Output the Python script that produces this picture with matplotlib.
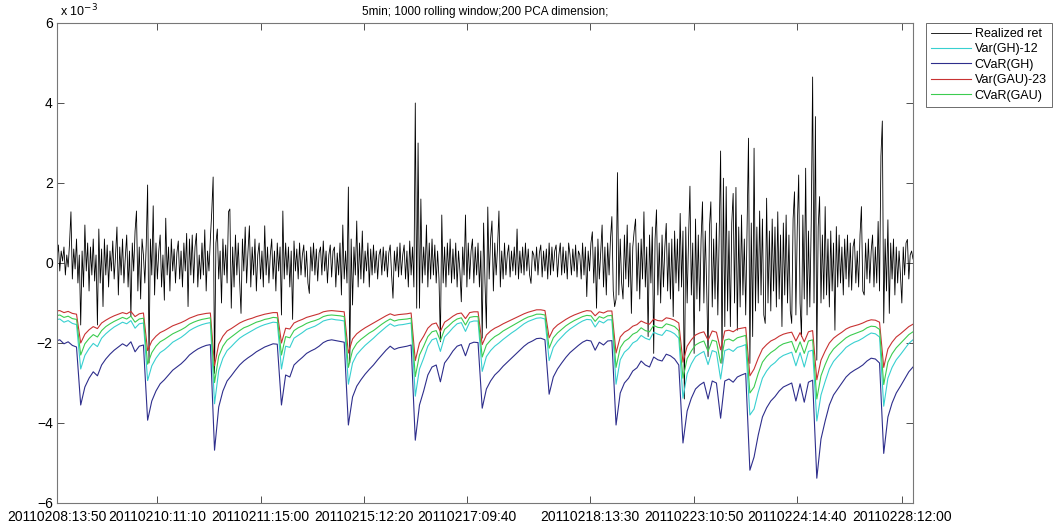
import numpy as np
import matplotlib
matplotlib.use('Agg')
import matplotlib.pyplot as plt

plt.rcParams['font.family'] = ['Liberation Sans', 'DejaVu Sans']

# realized 5min returns (x 1e-3), samples 1..615
ret_e3 = [
    0.1, 0.45, -0.2, 0.3, 0.05, 0.4, -0.3, 0.2, -0.1, 0.5, 1.28, -0.4, 0.35, -0.15, 0.6, -0.5, 0.2,
    -1.55, 0.3, -0.6, 0.95, -0.2, 0.5, -0.7, 0.4, -0.3, 0.6, -0.45, 0.2, -1.55, 0.85, -0.5, 0.35, -1.09, 0.6, -0.3, 0.45, -0.6, 0.3, -0.2, 0.55,
    -0.4, 0.2, 0.9, -0.8, 0.4, -0.3, 0.6, -0.5, 0.15, 0.7, -0.6, 0.3, -1.34, 0.5, -0.2, 0.8, 1.3, -0.7, 0.4, -0.9, 0.6, 0.2, -0.5, 0.45,
    1.95, -2.5, 0.6, -0.3, 1.43, -0.8, 0.5, -0.4, 0.3, 0.7, -0.6, 0.2, -0.93, 1.12, -0.3, 0.4, -0.7, 0.6, -0.2, 0.35, -0.5, 0.25, 0.55, -0.4,
    0.3, -0.6, 0.5, -0.2, 0.74, -1.09, 0.6, -0.3, 0.7, -0.5, 0.4, 0.74, -0.6, 0.2, -0.4, 0.5, -0.3, 0.83, -0.7, 0.3, -0.2, 0.6, 1.28, 2.15,
    -2.76, 0.5, 0.85, -0.4, 0.3, -1.0, 0.6, -0.3, 0.45, -0.5, 1.28, 1.35, -1.13, 0.4, -0.6, 0.7, -0.3, 0.5, -0.45, -1.26, 0.6, -0.2, 0.9, -0.5,
    0.3, 0.93, -0.6, 0.4, -0.3, 0.6, -0.7, 0.2, 0.5, -0.4, 0.3, -0.6, 0.93, -0.3, 0.4, -0.5, 0.2, 0.6, -0.4, 0.3, -0.7, 0.5, -0.2, 0.4,
    -1.3, 1.3, -0.4, 0.5, -0.3, 0.4, -0.6, 0.3, -1.41, 0.55, -0.2, 0.35, -0.4, 0.5, -0.3, 0.2, 0.45, -0.35, 0.3, -0.5, -0.76, 0.4, -0.2, 0.5,
    -0.3, 0.35, -0.45, 0.25, 0.4, -0.3, 0.55, -0.2, 0.3, -0.5, 0.2, 0.45, -0.35, 0.3, 0.4, -0.6, 0.25, -0.3, 0.5, -0.8, 0.95, -0.4, 0.3, -0.5,
    1.9, -2.5, 0.6, -1.05, 0.4, -0.3, 1.05, -0.6, 0.5, -0.4, 0.8, -0.5, 0.3, -0.2, 0.5, -0.6, 0.35, -0.3, 0.45, -0.25, 0.3, -0.4, 0.2, 0.35,
    -0.3, 0.4, -0.2, 0.3, -0.35, 0.25, 0.45, -0.3, -0.88, 0.3, -0.2, 0.4, -0.35, 0.5, -0.3, 0.2, 0.45, -0.4, 0.3, -0.6, 0.55, -0.3, 0.4, -0.6,
    4.0, -1.13, 3.0, -1.13, 1.6, -0.5, 0.4, -0.3, 0.95, -0.6, 0.5, -0.4, 0.6, -0.3, 0.45, -0.5, 0.3, -0.4, -1.97, 1.2, -0.5, 0.4, -0.6, 0.5,
    -0.3, 0.6, -0.5, 0.35, -0.4, 0.5, -0.6, 0.3, -0.2, -0.97, 0.4, -0.3, 1.2, -0.6, 0.5, -0.4, 0.3, 0.6, -0.5, 0.4, -0.3, 0.5, -0.6, 0.3,
    -1.88, 1.0, -0.5, -1.63, 1.4, -0.4, 0.6, 1.05, -0.7, 0.5, -0.3, 0.4, 1.3, -0.6, 0.3, -0.4, 0.5, -0.3, 0.2, 0.45, -0.35, 0.3, -0.2, 0.4,
    -0.3, 0.85, -0.4, 0.3, -0.25, 0.4, -0.3, 0.5, -0.2, 0.35, -0.3, -0.51, 0.3, 0.2, -0.2, 0.4, -0.3, 0.25, 0.45, -0.35, 0.3, -0.2, 0.35, -0.4,
    0.5, -0.3, 0.4, -0.2, 0.3, 0.45, -0.35, 0.2, 0.5, -0.3, 0.4, -0.25, 0.3, -0.4, 0.5, 0.2, -0.3, 0.35, -0.2, 0.45, -0.35, 0.3, 0.2, -0.4,
    0.5, -0.3, 0.4, -0.84, 0.3, -0.2, 0.5, 0.78, -0.5, 0.4, -1.13, 0.6, -0.4, 0.3, 0.95, -0.6, 0.4, -0.8, 0.5, -0.3, 0.6, 1.16, -0.7, -1.09,
    -0.9, 2.26, -0.8, 0.6, -0.5, -0.9, 0.7, -0.4, 0.95, -0.6, 0.5, -1.26, 0.4, 0.8, 1.1, -0.7, 0.5, -0.9, 0.6, -0.4, 1.28, -0.6, 0.4, -1.84,
    0.7, -0.5, 0.9, -2.26, 0.6, 1.33, -0.8, 0.5, -1.0, 0.7, -0.6, 0.4, 0.99, -0.7, 0.5, -0.9, 0.6, -1.34, 0.8, -0.5, 0.6, -0.7, 1.24, -0.6,
    0.8, -3.4, 0.9, -1.0, 0.6, 1.92, -0.8, 0.5, -2.26, 1.1, -0.9, 0.7, -1.2, 0.6, 1.53, -1.0, 0.8, -0.6, -2.34, 0.9, 1.53, -1.1, 0.6, -0.9,
    1.0, -1.3, 0.7, 2.8, -2.51, 2.12, -1.59, 1.91, -1.2, 0.8, -1.59, 1.0, 1.74, -1.0, 1.89, -1.68, 0.9, -1.1, 1.2, -0.8, 0.6, -1.3, 0.9, 3.12,
    -2.51, 1.0, -1.84, 2.87, -1.2, 0.9, -1.0, 1.3, -0.8, 1.1, -1.3, -1.51, 1.62, -1.0, 0.8, -1.2, 1.1, -0.7, 0.9, -1.1, 1.28, -0.9, 0.7, -1.59,
    1.0, -0.8, 1.2, -1.0, 0.7, -1.2, -1.51, 1.1, 1.78, -1.3, 0.9, 2.2, -1.0, -1.84, 1.2, -0.9, 2.37, -1.3, 0.8, -1.1, 1.0, 4.65, -1.0, 3.66,
    -2.43, 0.9, 1.66, -1.0, 0.7, -0.9, 1.41, -0.8, 0.6, -1.1, 0.8, -0.7, 0.5, -1.68, 0.91, -0.6, 0.7, -0.5, 0.4, -0.8, 0.6, -0.4, 0.7, -0.6,
    0.5, -0.68, 0.4, 0.6, -0.5, 0.3, -0.6, 0.7, 1.41, -0.7, -0.8, 0.5, -0.4, 0.6, -0.5, 0.3, 0.7, -0.6, 0.4, -0.5, 1.04, -0.7, 2.67, 3.55,
    -1.5, 0.6, -0.7, 1.08, -1.26, 0.5, -0.4, 0.6, -0.8, 0.4, -0.5, 0.3, -0.3, -1.0, 0.4, -0.3, 0.5, 0.59, -0.4, 0.2, 0.3, 0.1,
]

# risk estimates (x 1e-3), every 3rd sample 0..615
cvar_gh = [
    -1.95, -1.92, -2.02, -1.97, -2.06, -2.10,
    -3.55, -3.10, -2.88, -2.72, -2.82, -2.55, -2.40, -2.28, -2.18, -2.10, -2.02, -2.08, -1.97, -2.22, -2.08, -2.05,
    -3.93, -3.45, -3.20, -3.02, -2.92, -2.80, -2.68, -2.60, -2.52, -2.42, -2.30, -2.22, -2.15, -2.10, -2.06, -2.04,
    -4.68, -3.60, -3.20, -2.95, -2.82, -2.68, -2.55, -2.45, -2.37, -2.30, -2.22, -2.16, -2.10, -2.06, -2.02, -2.03,
    -3.55, -2.80, -2.85, -2.55, -2.45, -2.36, -2.26, -2.20, -2.15, -2.08, -1.99, -1.94, -1.92, -1.94, -1.96, -1.98,
    -4.05, -3.35, -3.08, -2.92, -2.78, -2.66, -2.55, -2.42, -2.30, -2.18, -2.08, -2.16, -2.12, -2.10, -2.08, -2.05,
    -4.43, -3.55, -3.20, -2.80, -2.60, -2.55, -2.97, -2.50, -2.36, -2.20, -2.08, -2.04, -2.32, -2.02, -1.98, -1.99,
    -3.63, -3.15, -2.95, -2.80, -2.70, -2.58, -2.48, -2.38, -2.28, -2.18, -2.08, -2.00, -1.95, -1.89, -1.88, -1.92,
    -3.28, -2.85, -2.65, -2.50, -2.36, -2.24, -2.15, -2.06, -1.98, -1.93, -1.95, -2.18, -1.98, -2.05, -1.95, -1.94,
    -4.05, -3.25, -3.00, -2.88, -2.70, -2.62, -2.45, -2.55, -2.60, -2.35, -2.42, -2.45, -2.28, -2.32, -2.40, -2.55,
    -4.50, -3.70, -3.38, -3.15, -3.05, -2.98, -3.40, -2.95, -3.00, -3.88, -2.95, -2.90, -2.98, -2.85, -2.80, -2.76,
    -5.18, -4.85, -4.30, -3.85, -3.62, -3.45, -3.34, -3.20, -3.10, -3.05, -3.00, -3.45, -3.02, -3.48, -2.98, -2.93,
    -5.38, -4.40, -3.95, -3.55, -3.30, -3.15, -3.00, -2.85, -2.75, -2.68, -2.62, -2.55, -2.45, -2.38, -2.40, -2.50,
    -4.76, -3.85, -3.50, -3.25, -3.08, -2.90, -2.72, -2.60,
]
var_gau = [
    -1.20, -1.19, -1.24, -1.21, -1.26, -1.28,
    -2.00, -1.78, -1.67, -1.59, -1.64, -1.50, -1.43, -1.37, -1.32, -1.28, -1.24, -1.27, -1.21, -1.34, -1.27, -1.25,
    -2.19, -1.95, -1.83, -1.74, -1.69, -1.63, -1.57, -1.53, -1.49, -1.44, -1.38, -1.34, -1.30, -1.28, -1.26, -1.25,
    -2.57, -2.03, -1.83, -1.70, -1.64, -1.57, -1.50, -1.45, -1.41, -1.38, -1.34, -1.31, -1.28, -1.26, -1.24, -1.24,
    -2.00, -1.63, -1.65, -1.50, -1.45, -1.41, -1.36, -1.33, -1.30, -1.27, -1.22, -1.20, -1.19, -1.20, -1.21, -1.22,
    -2.25, -1.90, -1.77, -1.69, -1.62, -1.56, -1.50, -1.44, -1.38, -1.32, -1.27, -1.31, -1.29, -1.28, -1.27, -1.25,
    -2.44, -2.00, -1.83, -1.63, -1.53, -1.50, -1.71, -1.48, -1.41, -1.33, -1.27, -1.25, -1.39, -1.24, -1.22, -1.22,
    -2.04, -1.80, -1.70, -1.63, -1.58, -1.52, -1.47, -1.42, -1.37, -1.32, -1.27, -1.23, -1.20, -1.17, -1.17, -1.19,
    -1.87, -1.65, -1.55, -1.48, -1.41, -1.35, -1.30, -1.26, -1.22, -1.19, -1.20, -1.32, -1.22, -1.25, -1.20, -1.20,
    -2.25, -1.85, -1.73, -1.67, -1.58, -1.54, -1.45, -1.50, -1.53, -1.40, -1.44, -1.45, -1.37, -1.39, -1.43, -1.50,
    -2.48, -2.08, -1.92, -1.80, -1.75, -1.72, -1.93, -1.70, -1.73, -2.17, -1.70, -1.68, -1.72, -1.65, -1.63, -1.61,
    -2.82, -2.65, -2.38, -2.15, -2.04, -1.95, -1.90, -1.83, -1.78, -1.75, -1.73, -1.95, -1.74, -1.97, -1.72, -1.69,
    -2.92, -2.43, -2.20, -2.00, -1.88, -1.80, -1.73, -1.65, -1.60, -1.57, -1.54, -1.50, -1.45, -1.42, -1.43, -1.48,
    -2.61, -2.15, -1.98, -1.85, -1.77, -1.68, -1.59, -1.53,
]
cvar_gau = [
    -1.32, -1.30, -1.36, -1.33, -1.39, -1.41,
    -2.30, -2.02, -1.89, -1.79, -1.85, -1.69, -1.59, -1.52, -1.46, -1.41, -1.36, -1.40, -1.33, -1.48, -1.40, -1.38,
    -2.53, -2.24, -2.08, -1.97, -1.91, -1.84, -1.77, -1.72, -1.67, -1.61, -1.53, -1.48, -1.44, -1.41, -1.39, -1.37,
    -2.99, -2.33, -2.08, -1.93, -1.85, -1.77, -1.69, -1.62, -1.58, -1.53, -1.48, -1.45, -1.41, -1.39, -1.36, -1.37,
    -2.30, -1.84, -1.87, -1.69, -1.62, -1.57, -1.51, -1.47, -1.44, -1.40, -1.34, -1.31, -1.30, -1.31, -1.32, -1.34,
    -2.61, -2.18, -2.01, -1.91, -1.83, -1.75, -1.69, -1.61, -1.53, -1.46, -1.40, -1.45, -1.42, -1.41, -1.40, -1.38,
    -2.84, -2.30, -2.08, -1.84, -1.72, -1.69, -1.94, -1.66, -1.57, -1.47, -1.40, -1.37, -1.55, -1.36, -1.34, -1.34,
    -2.35, -2.05, -1.93, -1.84, -1.78, -1.70, -1.64, -1.58, -1.52, -1.46, -1.40, -1.35, -1.32, -1.28, -1.28, -1.30,
    -2.13, -1.87, -1.75, -1.66, -1.57, -1.50, -1.44, -1.39, -1.34, -1.31, -1.32, -1.46, -1.34, -1.38, -1.32, -1.31,
    -2.61, -2.12, -1.96, -1.89, -1.78, -1.73, -1.62, -1.69, -1.72, -1.56, -1.61, -1.62, -1.52, -1.55, -1.59, -1.69,
    -2.88, -2.39, -2.20, -2.05, -1.99, -1.95, -2.21, -1.93, -1.96, -2.50, -1.93, -1.90, -1.95, -1.87, -1.84, -1.81,
    -3.25, -3.10, -2.76, -2.48, -2.34, -2.24, -2.17, -2.08, -2.02, -1.99, -1.96, -2.24, -1.97, -2.26, -1.95, -1.92,
    -3.40, -2.82, -2.54, -2.30, -2.15, -2.05, -1.96, -1.87, -1.81, -1.77, -1.73, -1.69, -1.62, -1.58, -1.59, -1.66,
    -3.04, -2.48, -2.27, -2.12, -2.01, -1.90, -1.79, -1.72,
]
var_gh = [
    -1.42, -1.40, -1.48, -1.44, -1.51, -1.54,
    -2.65, -2.31, -2.14, -2.01, -2.09, -1.88, -1.77, -1.68, -1.60, -1.54, -1.48, -1.52, -1.44, -1.63, -1.52, -1.50,
    -2.94, -2.57, -2.38, -2.24, -2.17, -2.08, -1.98, -1.92, -1.86, -1.78, -1.69, -1.63, -1.58, -1.54, -1.51, -1.49,
    -3.52, -2.69, -2.38, -2.19, -2.09, -1.98, -1.88, -1.81, -1.75, -1.69, -1.63, -1.58, -1.54, -1.51, -1.48, -1.49,
    -2.65, -2.08, -2.11, -1.88, -1.81, -1.74, -1.66, -1.62, -1.58, -1.52, -1.45, -1.42, -1.40, -1.42, -1.43, -1.45,
    -3.03, -2.50, -2.29, -2.17, -2.06, -1.97, -1.88, -1.78, -1.69, -1.60, -1.52, -1.58, -1.55, -1.54, -1.52, -1.50,
    -3.33, -2.65, -2.38, -2.08, -1.92, -1.88, -2.21, -1.85, -1.74, -1.62, -1.52, -1.49, -1.71, -1.48, -1.45, -1.45,
    -2.71, -2.34, -2.19, -2.08, -2.00, -1.91, -1.83, -1.75, -1.68, -1.60, -1.52, -1.46, -1.42, -1.38, -1.37, -1.40,
    -2.44, -2.11, -1.96, -1.85, -1.74, -1.65, -1.58, -1.51, -1.45, -1.41, -1.42, -1.60, -1.45, -1.50, -1.42, -1.42,
    -3.03, -2.42, -2.23, -2.14, -2.00, -1.94, -1.81, -1.88, -1.92, -1.73, -1.78, -1.81, -1.68, -1.71, -1.77, -1.88,
    -3.38, -2.77, -2.52, -2.34, -2.27, -2.21, -2.54, -2.19, -2.23, -2.90, -2.19, -2.15, -2.21, -2.11, -2.08, -2.04,
    -3.80, -3.65, -3.23, -2.88, -2.70, -2.57, -2.49, -2.38, -2.31, -2.27, -2.23, -2.57, -2.24, -2.60, -2.21, -2.18,
    -3.95, -3.30, -2.96, -2.65, -2.46, -2.34, -2.23, -2.11, -2.04, -1.98, -1.94, -1.88, -1.81, -1.75, -1.77, -1.85,
    -3.58, -2.88, -2.61, -2.42, -2.29, -2.15, -2.01, -1.92,
]

tick_pos = [1, 73, 147, 221, 295, 383, 458, 532, 607]
tick_labels = ['20110208:13:50', '20110210:11:10', '20110211:15:00', '20110215:12:20',
               '20110217:09:40', '20110218:13:30', '20110223:10:50', '20110224:14:40',
               '20110228:12:00']

x_ret = np.arange(1, len(ret_e3) + 1)
x_risk = np.arange(0, 3 * len(cvar_gh), 3)

fig = plt.figure(figsize=(10.55, 5.22), dpi=100)
ax = fig.add_axes([57/1055, 1 - 503/522, (913-57)/1055, (503-23)/522])

ax.plot(x_ret, ret_e3, color='black', lw=0.6, label='Realized ret')
ax.plot(x_risk, var_gh, color='#38d0d0', lw=0.8, label='Var(GH)-12')
ax.plot(x_risk, cvar_gh, color='#2e2e8c', lw=0.8, label='CVaR(GH)')
ax.plot(x_risk, var_gau, color='#c83232', lw=0.8, label='Var(GAU)-23')
ax.plot(x_risk, cvar_gau, color='#3ccc50', lw=0.8, label='CVaR(GAU)')

ax.set_xlim(1, 615)
ax.set_ylim(-6, 6)
ax.set_yticks([-6, -4, -2, 0, 2, 4, 6])
ax.set_xticks(tick_pos)
ax.set_xticklabels(tick_labels)
ax.tick_params(direction='in', top=True, right=True, length=5, width=0.6,
               labelsize=10, color='#333333')
ax.tick_params(axis='x', pad=5)
ax.tick_params(axis='y', pad=3)
for sp in ax.spines.values():
    sp.set_color('#777777')
    sp.set_linewidth(0.8)

ax.text(0.004, 1.008, r'x 10$^{-3}$', transform=ax.transAxes, fontsize=9,
        ha='left', va='bottom')
ax.set_title('5min; 1000 rolling window;200 PCA dimension;', fontsize=8.5, pad=6)

leg = fig.legend(loc='upper left', bbox_to_anchor=(926/1055, 1 - 23/522),
                 fontsize=9, frameon=True, fancybox=False, framealpha=1,
                 edgecolor='#555555', handlelength=3.2, handletextpad=0.3,
                 labelspacing=0.27, borderpad=0.4, borderaxespad=0)
leg.get_frame().set_linewidth(0.6)

fig.savefig('out.png', dpi=100)
